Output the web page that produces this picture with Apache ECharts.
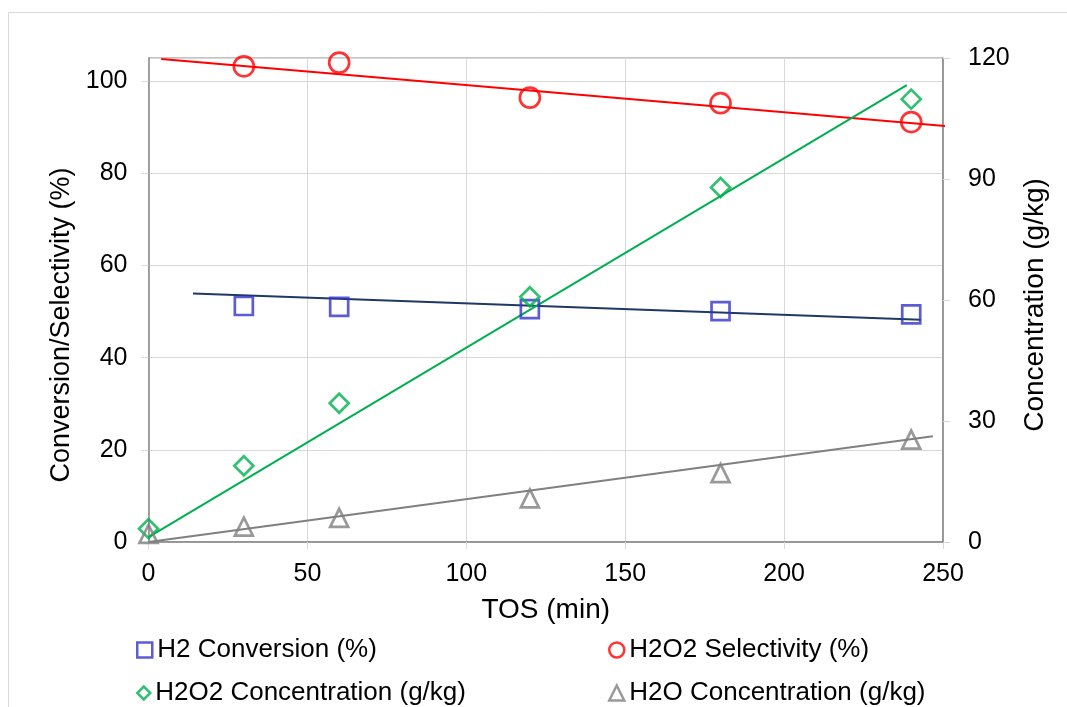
<!DOCTYPE html>
<html>
<head>
<meta charset="utf-8">
<script src="https://cdn.jsdelivr.net/npm/echarts@6/dist/echarts.min.js"></script>
<style>
html,body{margin:0;padding:0;background:#fff;}
#chart{width:1067px;height:707px;}
</style>
</head>
<body>
<div id="chart"></div>
<script>
// ---- data ----
const tosAll = [0, 30, 60, 120, 180, 240];
const tosNoZero = [30, 60, 120, 180, 240];
const h2Conversion = [51.2, 51.0, 50.5, 50.1, 49.4];
const h2o2Selectivity = [103.2, 104.0, 96.4, 95.2, 91.1];
const h2o2Concentration = [3.3, 18.9, 34.4, 60.8, 87.9, 109.8];
const h2oConcentration = [2.0, 3.8, 6.0, 10.8, 17.1, 25.4];

// trend line end points (as drawn in the reference)
const convTrendX = [14, 243];
const convTrendY = [53.9, 48.2];
const selTrendX = [4, 253];
const selTrendY = [104.8, 90.1];
const h2o2TrendX = [0, 238.6];
const h2o2TrendY = [1.2, 113.3];
const h2oTrendX = [0, 246.8];
const h2oTrendY = [0, 26.2];

const xTicks = [0, 50, 100, 150, 200, 250];
const leftTicks = [0, 20, 40, 60, 80, 100];
const rightTicks = [0, 30, 60, 90, 120];

const names = ['H2 Conversion (%)', 'H2O2 Selectivity (%)', 'H2O2 Concentration (g/kg)', 'H2O Concentration (g/kg)'];
const colors = ['#3333CC', '#FF0000', '#00B050', '#808080'];

function pairs(xs, ys) { return xs.map((x, i) => [x, ys[i]]); }

const FONT = 'Liberation Sans, Arial, sans-serif';
const AXIS_COLOR = '#868686';
const GRID_COLOR = '#D9D9D9';

const chart = echarts.init(document.getElementById('chart'), null, {renderer: 'canvas'});

function legend(i, left, top, w, h) {
  return {
    data: [{name: names[i], itemStyle: {color: 'rgba(255,255,255,0)', borderColor: colors[i], borderWidth: 2.5}}],
    left: left, top: top, itemWidth: w, itemHeight: h, itemGap: 0, padding: 0,
    itemStyle: {borderWidth: 2.5},
    textStyle: {fontFamily: FONT, fontSize: 26, color: '#000'},
    selectedMode: false
  };
}

function trend(xs, ys, color, yIdx) {
  return {
    type: 'line', data: pairs(xs, ys), yAxisIndex: yIdx, symbol: 'none', clip: false,
    lineStyle: {color: color, width: 2}, silent: true, z: 3, animation: false
  };
}

function marker(i, xs, ys, symbol, size, yIdx) {
  return {
    name: names[i], type: 'scatter', data: pairs(xs, ys), yAxisIndex: yIdx,
    symbol: symbol, symbolSize: size,
    itemStyle: {color: 'rgba(255,255,255,0)', borderColor: colors[i], borderWidth: 2.7},
    z: 4, animation: false
  };
}

const option = {
  backgroundColor: '#fff',
  animation: false,
  graphic: [{
    type: 'rect', shape: {x: 8.5, y: 12.5, width: 1200, height: 800},
    style: {fill: 'none', stroke: '#D9D9D9', lineWidth: 1}, silent: true, z: -10
  }],
  grid: {left: 148.5, right: 124, top: 58, bottom: 165, show: true, borderColor: AXIS_COLOR, borderWidth: 1},
  legend: [
    legend(0, 136, 637, 15, 15),
    legend(1, 608, 637, 15, 15),
    legend(2, 136, 680, 13, 13),
    legend(3, 608, 680, 15, 15)
  ],
  xAxis: {
    type: 'value', min: xTicks[0], max: xTicks[xTicks.length - 1], interval: xTicks[1] - xTicks[0],
    name: 'TOS (min)', nameLocation: 'middle', nameGap: 54,
    nameTextStyle: {fontFamily: FONT, fontSize: 28, color: '#000'},
    axisLine: {show: true, lineStyle: {color: AXIS_COLOR, width: 1.5}},
    axisTick: {show: true, length: 7, lineStyle: {color: GRID_COLOR, width: 1}},
    axisLabel: {fontFamily: FONT, fontSize: 25, color: '#000', margin: 20},
    splitLine: {show: true, lineStyle: {color: GRID_COLOR, width: 1}}
  },
  yAxis: [{
    type: 'value', min: 0, max: 105, interval: leftTicks[1] - leftTicks[0],
    name: 'Conversion/Selectivity (%)', nameLocation: 'middle', nameGap: 72, nameRotate: 90,
    nameTextStyle: {fontFamily: FONT, fontSize: 27, color: '#000', padding: [0, 50, 0, 0]},
    axisLine: {show: true, lineStyle: {color: AXIS_COLOR, width: 1.5}},
    axisTick: {show: true, length: 7, lineStyle: {color: GRID_COLOR, width: 1}},
    axisLabel: {fontFamily: FONT, fontSize: 25, color: '#000', margin: 21, showMaxLabel: false},
    splitLine: {show: true, lineStyle: {color: GRID_COLOR, width: 1}}
  }, {
    type: 'value', min: rightTicks[0], max: rightTicks[rightTicks.length - 1], interval: rightTicks[1] - rightTicks[0],
    position: 'right',
    name: 'Concentration (g/kg)', nameLocation: 'middle', nameGap: 78, nameRotate: 90,
    nameTextStyle: {fontFamily: FONT, fontSize: 28, color: '#000', padding: [0, 10, 0, 0]},
    axisLine: {show: true, lineStyle: {color: AXIS_COLOR, width: 1.5}},
    axisTick: {show: true, length: 7, lineStyle: {color: GRID_COLOR, width: 1}},
    axisLabel: {fontFamily: FONT, fontSize: 25, color: '#000', margin: 25},
    splitLine: {show: false}
  }],
  series: [
    trend(convTrendX, convTrendY, '#1F3864', 0),
    trend(selTrendX, selTrendY, '#FF0000', 0),
    trend(h2o2TrendX, h2o2TrendY, '#00B050', 1),
    trend(h2oTrendX, h2oTrendY, '#808080', 1),
    marker(0, tosNoZero, h2Conversion, 'rect', 18, 0),
    marker(1, tosNoZero, h2o2Selectivity, 'circle', 20, 0),
    marker(2, tosAll, h2o2Concentration, 'diamond', 19, 1),
    marker(3, tosAll, h2oConcentration, 'triangle', 18, 1)
  ]
};
chart.setOption(option);
</script>
</body>
</html>
